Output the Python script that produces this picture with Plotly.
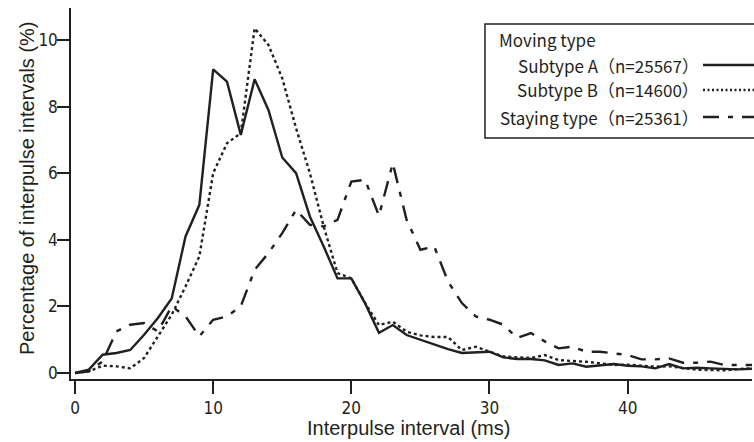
import plotly.graph_objects as go

interval_ms = list(range(0, 50))

subtype_a = [0, 0.1, 0.55, 0.6, 0.69, 1.15, 1.65, 2.24, 4.1, 5.05,
             9.12, 8.75, 7.15, 8.82, 7.9, 6.47, 6.0, 4.7, 3.8, 2.84,
             2.84, 2.09, 1.21, 1.44, 1.14, 1.0, 0.84, 0.72, 0.6, 0.62,
             0.64, 0.47, 0.42, 0.42, 0.38, 0.24, 0.29, 0.19, 0.22, 0.27,
             0.22, 0.2, 0.14, 0.27, 0.14, 0.16, 0.14, 0.12, 0.11, 0.13]

subtype_b = [0, 0.05, 0.22, 0.2, 0.14, 0.45, 1.1, 1.75, 2.6, 3.5,
             6.0, 6.9, 7.2, 10.35, 9.85, 8.85, 7.35, 6.0, 4.4, 3.0,
             2.84, 2.1, 1.44, 1.54, 1.24, 1.13, 1.08, 1.08, 0.69, 0.79,
             0.64, 0.5, 0.47, 0.45, 0.54, 0.39, 0.36, 0.34, 0.29, 0.24,
             0.25, 0.22, 0.19, 0.2, 0.15, 0.1, 0.09, 0.08, 0.12, 0.14]

staying = [0, 0.05, 0.35, 1.25, 1.45, 1.5, 1.25, 2.0, 1.7, 1.1,
           1.6, 1.7, 2.0, 3.1, 3.6, 4.2, 4.9, 4.45, 4.4, 4.6,
           5.75, 5.8, 4.72, 6.3, 4.6, 3.7, 3.8, 2.75, 2.1, 1.7,
           1.6, 1.45, 1.05, 1.2, 0.95, 0.74, 0.79, 0.64, 0.64, 0.59,
           0.54, 0.41, 0.41, 0.44, 0.31, 0.31, 0.34, 0.24, 0.24, 0.24]

x_ticks = [0, 10, 20, 30, 40]
y_ticks = [0, 2, 4, 6, 8, 10]

INK = "#231f20"
DOT = "3px,3px"
DASHDOT = "16px,9px,5px,9px"
TICKFONT = dict(family="Liberation Sans Narrow, DejaVu Sans Condensed, Liberation Sans, Arial", size=17, color=INK)
TITLEFONT = dict(family="Liberation Sans, Arial, Helvetica", size=20, color=INK)
LEGFONT = dict(family="Noto Sans CJK JP, Noto Sans, sans-serif", size=17, color=INK)

W, H = 754, 442
ML, MR, MT, MB = 71, 2, 8, 63
PW, PH = W - ML - MR, H - MT - MB


def px(xp):
    return (xp - ML) / PW


def py(yp):
    return (H - MB - yp) / PH


fig = go.Figure()
fig.add_trace(go.Scatter(x=interval_ms, y=subtype_a, mode="lines",
                         line=dict(color=INK, width=2.4), showlegend=False))
fig.add_trace(go.Scatter(x=interval_ms, y=subtype_b, mode="lines",
                         line=dict(color=INK, width=2.4, dash=DOT), showlegend=False))
fig.add_trace(go.Scatter(x=interval_ms, y=staying, mode="lines",
                         line=dict(color=INK, width=2.4, dash=DASHDOT), showlegend=False))

# legend box
fig.add_shape(type="rect", xref="paper", yref="paper",
              x0=px(485), x1=px(770), y0=py(138), y1=py(24),
              line=dict(color=INK, width=1.5), fillcolor="white", layer="above")

rows = [
    ("Subtype A（n=25567）", 65, "solid"),
    ("Subtype B（n=14600）", 90, "2px,2.5px"),
    ("Staying type（n=25361）", 117, DASHDOT),
]
fig.add_annotation(text="Moving type", xref="paper", yref="paper",
                   x=px(497), y=py(40), xanchor="left", yanchor="middle",
                   showarrow=False, font=LEGFONT)
for label, yy, dash in rows:
    fig.add_annotation(text=label, xref="paper", yref="paper",
                       x=px(701), y=py(yy), xanchor="right", yanchor="middle",
                       showarrow=False, font=LEGFONT)
    fig.add_shape(type="line", xref="paper", yref="paper",
                  x0=px(703), x1=px(775), y0=py(yy), y1=py(yy),
                  line=dict(color=INK, width=2.4, dash=dash), layer="above")

# axis titles
fig.add_annotation(text="Interpulse interval (ms)", xref="paper", yref="paper",
                   x=px(408), y=0, yshift=-49, xanchor="center", yanchor="middle",
                   showarrow=False, font=TITLEFONT)
fig.add_annotation(text="Percentage of interpulse intervals (%)", xref="paper", yref="paper",
                   x=0, xshift=-44, y=py(188), xanchor="center", yanchor="middle",
                   textangle=-90, showarrow=False, font=TITLEFONT)

fig.update_layout(
    width=W, height=H,
    margin=dict(l=ML, r=MR, t=MT, b=MB),
    paper_bgcolor="white", plot_bgcolor="white",
    xaxis=dict(range=[-0.29, 49.0], tickvals=x_ticks, ticks="outside", ticklen=13,
               tickwidth=1.5, tickcolor=INK, showline=True, linecolor=INK, linewidth=1.5,
               showgrid=False, zeroline=False, tickfont=TICKFONT),
    yaxis=dict(range=[-0.18, 10.96], tickvals=y_ticks, ticks="outside", ticklen=12,
               tickwidth=1.5, tickcolor=INK, showline=True, linecolor=INK, linewidth=1.5,
               showgrid=False, zeroline=False, tickfont=TICKFONT, ticklabelstandoff=-4),
)

fig.write_html("out.html")
